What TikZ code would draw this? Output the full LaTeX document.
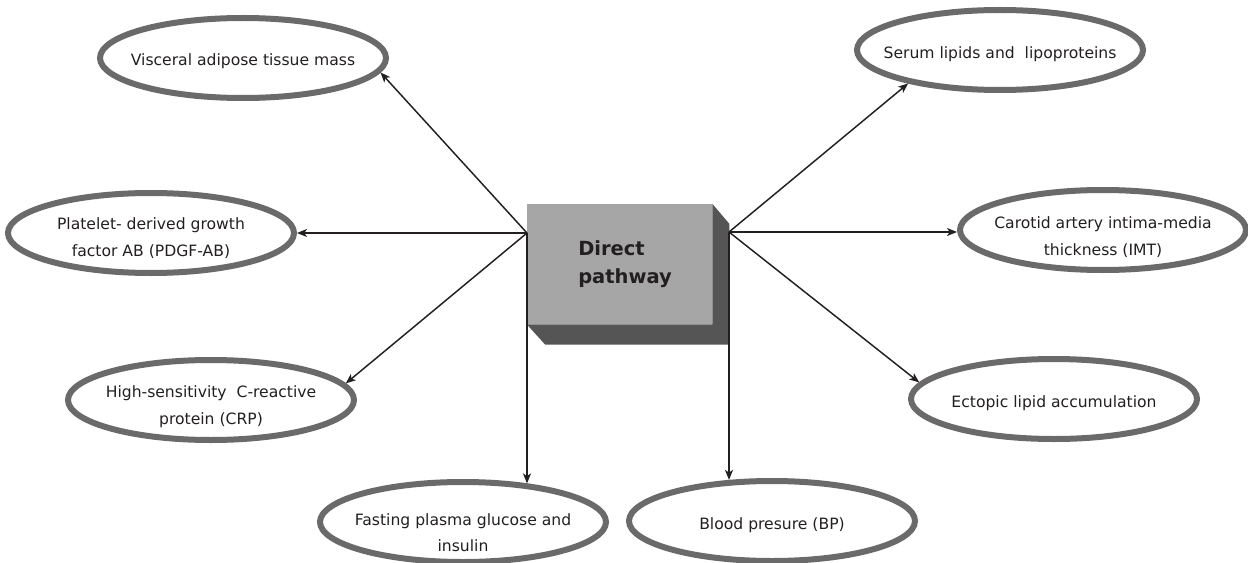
\documentclass[tikz,border=0pt]{standalone}
\usepackage{fontspec}
\setmainfont{DejaVu Sans}
\usetikzlibrary{shapes.geometric,arrows.meta}
\definecolor{ring}{HTML}{6A6A6A}
\definecolor{ink}{HTML}{231F20}
\definecolor{face}{HTML}{A6A6A6}
\definecolor{side}{HTML}{555555}
\newcommand\dnline[2]{\raisebox{-#1}[\height][\depth]{#2}}
\begin{document}
\begin{tikzpicture}[x=0.75pt,y=-0.75pt,
  oval/.style={ellipse,draw=ring,line width=4.5pt,fill=white,
    minimum width=214.5pt,minimum height=60pt,inner xsep=-30pt,inner ysep=0pt,
    align=center,text=ink,font=\fontsize{11.7}{20}\selectfont},
  link/.style={draw=ink,line width=1.1pt,-{Stealth[length=7.5pt,width=6pt,inset=2pt]}},
  frontface/.style={fill=face,minimum width=138.75pt,minimum height=90pt,inner sep=0pt}]
\useasboundingbox (0,0) rectangle (1248,563);

% central box
\node[frontface] (box) at (619.5,264) {};
\fill[side] (box.north east) -- ++(17,20) -- ++(0,121) -- ++(-184,0)
  -- (box.south west) -- (box.south east) -- cycle;
\node[anchor=west,align=left,inner sep=0pt,text=ink,font=\fontsize{14.6}{21}\selectfont\bfseries]
  (lbl) at (578,264) {Direct\\pathway};

% ellipses
\node[oval] (visc) at (243,58) {\dnline{2.25pt}{Visceral adipose tissue mass}};
\node[oval] (plat) at (151,233) {\dnline{3.75pt}{Platelet- derived growth}\\\dnline{3.75pt}{factor AB (PDGF-AB)}};
\node[oval] (crp) at (211,400) {\dnline{5.25pt}{High-sensitivity\ \ C-reactive}\\\dnline{5.25pt}{protein (CRP)}};
\node[oval] (fast) at (463,522) {\dnline{8pt}{Fasting plasma glucose and}\\\dnline{8pt}{insulin}};
\node[oval] (serum) at (1000,50) {\dnline{3pt}{Serum lipids and\ \ lipoproteins}};
\node[oval] (car) at (1103,230) {\dnline{5.25pt}{Carotid artery intima-media}\\\dnline{5.25pt}{thickness (IMT)}};
\node[oval] (ect) at (1054,399) {\dnline{3pt}{Ectopic lipid accumulation}};
\node[oval] (bp) at (772,521) {\dnline{3pt}{Blood presure (BP)}};

% origins
\coordinate (L) at (527,233);
\coordinate (R) at (729,232);

% connectors
\draw[link] (L) -- (visc.-6);
\draw[link] (L) -- (plat.east);
\draw[link] (L) -- (crp.7);
\draw[link] (L) -- (L |- fast.31);
\draw[link] (R) -- (serum.-160);
\draw[link] (R) -- (R -| car.west);
\draw[link] (R) -- (ect.173);
\draw[link] (R) -- (R |- bp.136);
\end{tikzpicture}
\end{document}
